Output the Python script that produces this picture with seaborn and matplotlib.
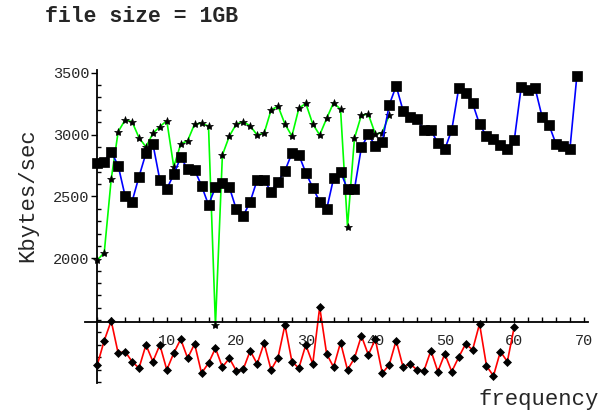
import numpy as np
import matplotlib
matplotlib.use('Agg')
import matplotlib.pyplot as plt
import seaborn as sns
from matplotlib.ticker import FixedLocator

# throughput (Kbytes/sec) against frequency, three runs
blue_vals = [2768, 2781, 2862, 2749, 2504, 2458, 2660, 2849, 2924, 2633,
             2560, 2679, 2816, 2722, 2714, 2587, 2431, 2574, 2606, 2574,
             2396, 2342, 2458, 2633, 2633, 2539, 2620, 2708, 2849, 2835,
             2692, 2571, 2458, 2396, 2647, 2700, 2558, 2558, 2897, 3002,
             2908, 2942, 3239, 3393, 3193, 3144, 3128, 3037, 3037, 2930,
             2881, 3037, 3374, 3334, 3253, 3083, 2988, 2962, 2916, 2881,
             2956, 3387, 3360, 3374, 3144, 3077, 2924, 2908, 2881, 3473]
green_vals = [1985, 2046, 2639, 3023, 3118, 3104, 2975, 2900, 3010, 3064,
              3112, 2740, 2924, 2951, 3085, 3091, 3069, 1460, 2835, 2988,
              3085, 3104, 3070, 2997, 3010, 3198, 3231, 3085, 2988, 3212,
              3253, 3085, 2997, 3131, 3258, 3204, 2256, 2970, 3158, 3164,
              3005, 3015, 3158]
red_vals = [1138, 1335, 1494, 1233, 1246, 1165, 1112, 1300, 1165, 1300,
            1098, 1233, 1346, 1192, 1308, 1071, 1152, 1273, 1120, 1192,
            1090, 1103, 1252, 1146, 1314, 1098, 1197, 1461, 1165, 1112,
            1300, 1146, 1605, 1227, 1120, 1319, 1098, 1192, 1373, 1219,
            1346, 1071, 1138, 1335, 1120, 1146, 1098, 1090, 1254, 1084,
            1227, 1084, 1200, 1308, 1260, 1470, 1130, 1049, 1246, 1165,
            1448]
blue_x = np.arange(len(blue_vals))
green_x = np.arange(len(green_vals))
red_x = np.arange(len(red_vals))

x_ticks = [10, 20, 30, 40, 50, 60, 70]
y_ticks = [2000, 2500, 3000, 3500]

sns.set_style('white')
plt.rcParams['font.family'] = ['Liberation Mono', 'DejaVu Sans Mono']

fig = plt.figure(figsize=(6.13, 4.13), dpi=100)
ax = fig.add_axes([85 / 613, 1 - 390 / 413, (592 - 85) / 613, (390 - 60) / 413])

sns.lineplot(x=green_x, y=green_vals, color='#00ff00', lw=1.2, marker='*', ms=6,
             markerfacecolor='black', markeredgecolor='black', markeredgewidth=0.5, ax=ax)
sns.lineplot(x=blue_x, y=blue_vals, color='#0000ff', lw=1.2, marker='s', ms=6.5,
             markerfacecolor='black', markeredgecolor='black', markeredgewidth=0.5, ax=ax)
sns.lineplot(x=red_x, y=red_vals, color='#ff0000', lw=1.2, marker='D', ms=3.8,
             markerfacecolor='black', markeredgecolor='black', markeredgewidth=0.5, ax=ax)

ax.set_xlim(-1.77, 71.18)
ax.set_ylim(935, 3603)

for s in ['top', 'right']:
    ax.spines[s].set_visible(False)
ax.spines['left'].set_position(('data', 0))
ax.spines['bottom'].set_position(('data', 1485))
ax.spines['left'].set_bounds(990, 3520)
ax.spines['bottom'].set_bounds(-1.7, 70.6)
for s in ['left', 'bottom']:
    ax.spines[s].set_color('black')
    ax.spines[s].set_linewidth(1.3)

ax.xaxis.set_major_locator(FixedLocator(x_ticks))
ax.xaxis.set_minor_locator(FixedLocator(list(range(0, 71, 2))))
ax.yaxis.set_major_locator(FixedLocator(y_ticks))
ax.yaxis.set_minor_locator(FixedLocator(list(range(1000, 3501, 100))))
ax.tick_params(axis='x', which='both', bottom=True, direction='in', length=3.5, width=1,
               color='black', labelsize=11, pad=9)
ax.tick_params(axis='y', which='major', left=True, direction='out', length=4, width=1,
               color='black', labelsize=11, pad=1.5)
ax.tick_params(axis='y', which='minor', left=True, direction='in', length=3, width=1,
               color='black')
ax.set_xlabel('')
ax.set_ylabel('')

fig.text(45 / 613, 1 - 17 / 413, 'file size = 1GB', fontsize=15.5, fontweight='bold',
         ha='left', va='center')
fig.text(28 / 613, 1 - 195 / 413, 'Kbytes/sec', fontsize=16, rotation=90,
         ha='center', va='center')
fig.text(539 / 613, 1 - 400 / 413, 'frequency', fontsize=16, ha='center', va='center')

fig.savefig('out.png', dpi=100)
